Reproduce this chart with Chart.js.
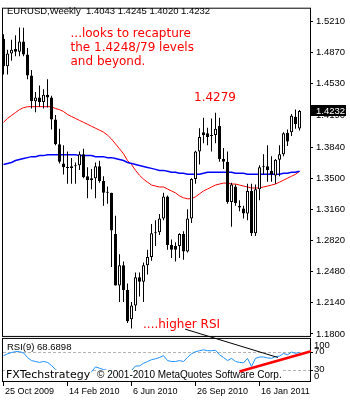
<!DOCTYPE html>
<html>
<head>
<meta charset="utf-8">
<script src="https://cdn.jsdelivr.net/npm/chart.js@4.4.1/dist/chart.umd.min.js"></script>
<style>
html,body{margin:0;padding:0;background:#ffffff;}
#wrap{width:350px;height:400px;position:relative;}
canvas{display:block;}
</style>
</head>
<body>
<div id="wrap"><canvas id="c" width="350" height="400"></canvas></div>
<script>
// ---------- data ----------
const symbolTitle = 'EURUSD,Weekly';
const tickIndex  = [0, 16, 32, 48, 64];
const tickLabels = ['25 Oct 2009', '14 Feb 2010', '6 Jun 2010', '26 Sep 2010', '16 Jan 2011'];
const priceTicks = [1.5210, 1.4870, 1.4530, 1.4190, 1.3840, 1.3500, 1.3160, 1.2820, 1.2480, 1.2140, 1.1800];
const rsiTicks   = [100, 70, 30, 0];
const rsiLevels  = [70, 30];

const openP = [1.5020,1.4720,1.4860,1.4910,1.4880,1.4990,1.4850,1.4620,1.4340,1.4380,
  1.4330,1.4410,1.4380,1.4140,1.3870,1.3660,1.3620,1.3610,1.3630,1.3640,
  1.3760,1.3520,1.3480,1.3500,1.3630,1.3470,1.3340,1.3340,1.2890,1.2330,
  1.2550,1.2280,1.1960,1.2110,1.2420,1.2370,1.2550,1.2640,1.2900,1.2910,
  1.3060,1.3300,1.2770,1.2760,1.2760,1.2890,1.2700,1.3060,1.3490,1.3790,
  1.4000,1.3990,1.3960,1.3970,1.4070,1.3710,1.3680,1.3240,1.3410,1.3200,
  1.3170,1.3115,1.3360,1.2900,1.3380,1.3620,1.3630,1.3580,1.3530,1.3700,
  1.3760,1.3995,1.4000,1.4170,1.4043];
const highP = [1.5070,1.4900,1.5010,1.5060,1.5144,1.5140,1.4920,1.4680,1.4440,1.4510,
  1.4470,1.4580,1.4400,1.4190,1.4040,1.3860,1.3790,1.3720,1.3670,1.3790,
  1.3820,1.3620,1.3600,1.3670,1.3690,1.3520,1.3410,1.3340,1.3090,1.2670,
  1.2590,1.2350,1.2150,1.2470,1.2470,1.2580,1.2720,1.3000,1.3040,1.3110,
  1.3340,1.3310,1.2830,1.2800,1.2900,1.2920,1.3160,1.3500,1.3800,1.4045,
  1.4160,1.4050,1.4150,1.4215,1.4160,1.3830,1.3790,1.3450,1.3430,1.3260,
  1.3200,1.3440,1.3440,1.3430,1.3640,1.3760,1.3860,1.3740,1.3710,1.3860,
  1.4000,1.4030,1.4200,1.4250,1.4245];
const lowP = [1.4630,1.4630,1.4780,1.4830,1.4830,1.4830,1.4580,1.4260,1.4220,1.4280,
  1.4260,1.4270,1.4030,1.3860,1.3660,1.3540,1.3440,1.3440,1.3440,1.3590,
  1.3500,1.3280,1.3380,1.3280,1.3450,1.3200,1.3220,1.2530,1.2330,1.2150,
  1.2150,1.1920,1.1860,1.2050,1.2210,1.2150,1.2450,1.2600,1.2760,1.2880,
  1.3040,1.2720,1.2630,1.2590,1.2630,1.2610,1.2690,1.3010,1.3440,1.3650,
  1.3880,1.3860,1.3790,1.3880,1.3680,1.3600,1.3220,1.2970,1.3200,1.3140,
  1.3060,1.3040,1.2870,1.2870,1.3260,1.3540,1.3460,1.3460,1.3440,1.3520,
  1.3740,1.3850,1.3960,1.4040,1.4020];
const closeP = [1.4720,1.4860,1.4900,1.4880,1.4990,1.4850,1.4620,1.4340,1.4380,1.4330,
  1.4410,1.4380,1.4140,1.3870,1.3680,1.3620,1.3610,1.3630,1.3640,1.3760,
  1.3510,1.3480,1.3500,1.3630,1.3470,1.3340,1.3340,1.2930,1.2330,1.2550,
  1.2280,1.1940,1.2110,1.2420,1.2370,1.2550,1.2640,1.2900,1.2910,1.3060,
  1.3300,1.2770,1.2720,1.2720,1.2890,1.2700,1.3060,1.3490,1.3790,1.3950,
  1.3970,1.3950,1.3970,1.4040,1.3710,1.3680,1.3240,1.3430,1.3230,1.3180,
  1.3115,1.3360,1.2900,1.3380,1.3620,1.3630,1.3590,1.3540,1.3700,1.3760,
  1.3990,1.3900,1.4180,1.4090,1.4232];

const maRed = [1.4109,1.4152,1.4184,1.4216,1.4248,1.4269,1.4280,1.4280,1.4280,1.4280,
  1.4280,1.4280,1.4280,1.4259,1.4248,1.4227,1.4195,1.4173,1.4152,1.4130,
  1.4109,1.4088,1.4066,1.4045,1.4024,1.4002,1.3970,1.3927,1.3874,1.3820,
  1.3767,1.3692,1.3649,1.3585,1.3532,1.3489,1.3457,1.3425,1.3414,1.3404,
  1.3404,1.3382,1.3361,1.3339,1.3307,1.3286,1.3275,1.3275,1.3297,1.3329,
  1.3361,1.3382,1.3404,1.3425,1.3436,1.3446,1.3446,1.3436,1.3436,1.3425,
  1.3414,1.3404,1.3393,1.3393,1.3393,1.3404,1.3414,1.3425,1.3436,1.3457,
  1.3478,1.3500,1.3521,1.3542,1.3575];
const maBlue = [1.3649,1.3660,1.3671,1.3692,1.3703,1.3714,1.3724,1.3735,1.3735,1.3746,
  1.3746,1.3756,1.3756,1.3756,1.3756,1.3756,1.3756,1.3756,1.3756,1.3746,
  1.3746,1.3746,1.3746,1.3735,1.3735,1.3735,1.3724,1.3724,1.3714,1.3703,
  1.3692,1.3671,1.3660,1.3649,1.3639,1.3628,1.3617,1.3607,1.3596,1.3585,
  1.3585,1.3575,1.3564,1.3564,1.3553,1.3553,1.3542,1.3542,1.3542,1.3542,
  1.3553,1.3564,1.3564,1.3564,1.3564,1.3564,1.3564,1.3564,1.3553,1.3553,
  1.3553,1.3542,1.3542,1.3542,1.3542,1.3542,1.3542,1.3542,1.3542,1.3542,
  1.3553,1.3553,1.3564,1.3564,1.3575];
const rsi9 = [61,65,68,70,70,67,57,50,48,46,
  48,46,39,30,24,23,24,25,25,28,
  26,24,25,36,33,30,28,20,16,24,
  21,17,28,38,38,44,48,52,54,57,
  61,50,48,48,50,48,57,65,70,72,
  74,72,72,73,63,57,50,55,48,46,
  45,55,37,55,58,58,56,55,59,60,
  66,63,69,66,68.6898];

// annotation trend lines (bar index, value)
const blackLineFrom = {i: 45.4, price: 1.1853};
const blackLineTo   = {i: 68.6, rsi: 56.9};
const redLineFrom   = {i: 59.0, rsi: 25.6};
const redLineTo     = {i: 76.9, rsi: 71.1};

const noteLines = ['...looks to recapture', 'the 1.4248/79 levels', 'and beyond.'];
const noteHigh = '1.4279';
const noteRsi = '....higher RSI';
const brand = 'FXTechstrategy';
const copyright = '\u00A9 2001-2010 MetaQuotes Software Corp.';

// ---------- build ----------
const N = openP.length;
const idx = openP.map((_, i) => i);
const bodyData = idx.map(i => ({x: i, y: [openP[i], closeP[i]]}));
const wickData = idx.map(i => ({x: i, y: [lowP[i], highP[i]]}));
const bodyFill = idx.map(i => closeP[i] >= openP[i] ? '#ffffff' : '#000000');

const FONT_SYS = '"Liberation Sans", Arial, sans-serif';
const FONT_NOTE = '"DejaVu Sans", Verdana, sans-serif';

const overlay = {
  id: 'overlay',
  beforeDatasetsDraw(chart) {
    const {ctx, chartArea} = chart;
    const r = chart.scales.rsi;
    ctx.save();
    ctx.strokeStyle = '#b4b4b4';
    ctx.lineWidth = 1;
    ctx.setLineDash([3, 2]);
    rsiLevels.forEach(v => {
      const py = Math.round(r.getPixelForValue(v)) + 0.5;
      ctx.beginPath();
      ctx.moveTo(chartArea.left + 1, py);
      ctx.lineTo(chartArea.right, py);
      ctx.stroke();
    });
    ctx.restore();
  },
  afterDatasetsDraw(chart) {
    const {ctx, chartArea} = chart;
    const xs = chart.scales.x, ys = chart.scales.y, rs = chart.scales.rsi;
    const L = chartArea.left, R = chartArea.right;
    ctx.save();
    // gap between panes
    ctx.fillStyle = '#ffffff';
    ctx.fillRect(L, ys.bottom, R - L + 1, 1);

    // watermark texts on white background
    ctx.textBaseline = 'alphabetic';
    ctx.textAlign = 'left';
    ctx.font = '11px ' + FONT_NOTE;
    const bw = ctx.measureText(brand).width;
    ctx.font = '10px ' + FONT_SYS;
    const cw = ctx.measureText(copyright).width;
    const boxTop = Math.round(rs.getPixelForValue(30));
    ctx.fillStyle = '#ffffff';
    ctx.fillRect(5, boxTop, bw + 2, rs.bottom - 1 - boxTop);
    ctx.fillRect(96, boxTop, cw + 2, rs.bottom - 1 - boxTop);
    ctx.fillStyle = '#000000';
    ctx.font = '11px ' + FONT_NOTE;
    ctx.fillText(brand, 6, 378);
    ctx.font = '10px ' + FONT_SYS;
    ctx.fillText(copyright, 97, 378);

    // frames
    ctx.strokeStyle = '#000000';
    ctx.lineWidth = 1;
    ctx.strokeRect(L + 0.5, ys.top - 0.5, R - L, ys.bottom - ys.top);
    ctx.strokeRect(L + 0.5, rs.top + 1.5, R - L, rs.bottom - rs.top - 2);

    // annotation lines
    ctx.beginPath();
    ctx.moveTo(xs.getPixelForValue(blackLineFrom.i), ys.getPixelForValue(blackLineFrom.price));
    ctx.lineTo(xs.getPixelForValue(blackLineTo.i), rs.getPixelForValue(blackLineTo.rsi));
    ctx.strokeStyle = '#000000';
    ctx.lineWidth = 1;
    ctx.stroke();

    ctx.beginPath();
    ctx.moveTo(xs.getPixelForValue(redLineFrom.i), rs.getPixelForValue(redLineFrom.rsi));
    ctx.lineTo(xs.getPixelForValue(redLineTo.i), rs.getPixelForValue(redLineTo.rsi));
    ctx.strokeStyle = '#ff0000';
    ctx.lineWidth = 2.6;
    ctx.stroke();

    // red notes
    ctx.fillStyle = '#ff0000';
    ctx.font = '12px ' + FONT_NOTE;
    noteLines.forEach((t, k) => ctx.fillText(t, 70.5, 37 + 14 * k));
    ctx.fillText(noteHigh, 194, 101);
    ctx.fillText(noteRsi, 143, 328);

    // title and RSI header
    ctx.fillStyle = '#000000';
    ctx.font = '9.5px ' + FONT_SYS;
    ctx.textBaseline = 'middle';
    ctx.fillText(symbolTitle, 7, 11);
    const last = [openP[N-1], highP[N-1], lowP[N-1], closeP[N-1]].map(v => v.toFixed(4)).join(' ');
    ctx.fillText(last, 86, 11);
    ctx.fillText('RSI(9) ' + rsi9[N-1].toFixed(4), 7, 347.5);
    ctx.restore();
  },
  afterDraw(chart) {
    const {ctx, chartArea} = chart;
    const ys = chart.scales.y, rs = chart.scales.rsi;
    const R = chartArea.right;
    ctx.save();
    ctx.font = '9.5px ' + FONT_SYS;
    ctx.textBaseline = 'middle';
    ctx.textAlign = 'left';
    // current price box
    const py = ys.getPixelForValue(closeP[N-1]);
    ctx.fillStyle = '#000000';
    ctx.fillRect(R + 1, Math.round(py) - 6, 35, 11);
    ctx.fillStyle = '#ffffff';
    ctx.fillText(closeP[N-1].toFixed(4), R + 6, py);
    // RSI axis labels
    ctx.fillStyle = '#000000';
    ctx.strokeStyle = '#000000';
    ctx.lineWidth = 1;
    rsiTicks.forEach(v => {
      const p = rs.getPixelForValue(v);
      const cy = Math.min(Math.max(p, rs.top + 8), rs.bottom - 6);
      ctx.fillText(String(v), R + 4, cy);
      if (v > 0 && v < 100) {
        const ty = Math.round(p) + 0.5;
        ctx.beginPath();
        ctx.moveTo(R, ty);
        ctx.lineTo(R + 3, ty);
        ctx.stroke();
      }
    });
    ctx.restore();
  }
};

new Chart(document.getElementById('c'), {
  type: 'bar',
  data: {
    datasets: [
      {type: 'line', label: 'MA red', data: idx.map(i => ({x: i, y: maRed[i]})), yAxisID: 'y',
       borderColor: '#ff0000', borderWidth: 1, pointRadius: 0, tension: 0, order: 6},
      {type: 'line', label: 'MA blue', data: idx.map(i => ({x: i, y: maBlue[i]})), yAxisID: 'y',
       borderColor: '#0000ff', borderWidth: 1.5, pointRadius: 0, tension: 0, order: 5},
      {type: 'bar', label: 'wick', data: wickData, yAxisID: 'y', backgroundColor: '#000000',
       borderWidth: 0, barThickness: 1, grouped: false, inflateAmount: 0, order: 3},
      {type: 'bar', label: 'body', data: bodyData, yAxisID: 'y', backgroundColor: bodyFill,
       borderColor: '#000000', borderWidth: 1, borderSkipped: false, barThickness: 3,
       grouped: false, minBarLength: 1, inflateAmount: 0, order: 2},
      {type: 'line', label: 'RSI(9)', data: idx.map(i => ({x: i, y: rsi9[i]})), yAxisID: 'rsi',
       borderColor: '#1e90ff', borderWidth: 1, pointRadius: 0, tension: 0, order: 1}
    ]
  },
  options: {
    responsive: false,
    animation: false,
    devicePixelRatio: 1,
    events: [],
    layout: {padding: {left: 2, top: 1, right: 0, bottom: 0}, autoPadding: false},
    plugins: {legend: {display: false}, tooltip: {enabled: false}, title: {display: false}},
    scales: {
      x: {
        type: 'linear', min: -0.375, max: 76.625, offset: false, position: 'bottom',
        grid: {display: true, drawOnChartArea: false, drawTicks: true, tickLength: 4, color: '#000000', offset: false},
        border: {display: false},
        ticks: {
          autoSkip: false, maxRotation: 0, minRotation: 0, align: 'start', labelOffset: 1.5, padding: 0,
          color: '#000000', font: {family: FONT_SYS, size: 9},
          callback: v => { const k = tickIndex.indexOf(v); return k >= 0 ? tickLabels[k] : ''; }
        },
        afterBuildTicks: s => { s.ticks = tickIndex.map(v => ({value: v})); },
        afterFit: s => { s.height = 18; }
      },
      y: {
        type: 'linear', position: 'right', stack: 'panes', stackWeight: 335,
        min: 1.176793, max: 1.534897,
        grid: {display: true, drawOnChartArea: false, drawTicks: true, tickLength: 3, color: '#000000'},
        border: {display: false},
        ticks: {autoSkip: false, padding: 3, color: '#000000', font: {family: FONT_SYS, size: 9.5},
                callback: v => Number(v).toFixed(4)},
        afterBuildTicks: s => { s.ticks = priceTicks.map(v => ({value: v})); },
        afterFit: s => { s.width = 40; }
      },
      rsi: {
        type: 'linear', position: 'right', stack: 'panes', stackWeight: 46,
        min: 2.24, max: 102.79,
        grid: {display: false},
        border: {display: false},
        ticks: {display: false},
        afterFit: s => { s.width = 40; }
      }
    }
  },
  plugins: [overlay]
});
</script>
</body>
</html>
